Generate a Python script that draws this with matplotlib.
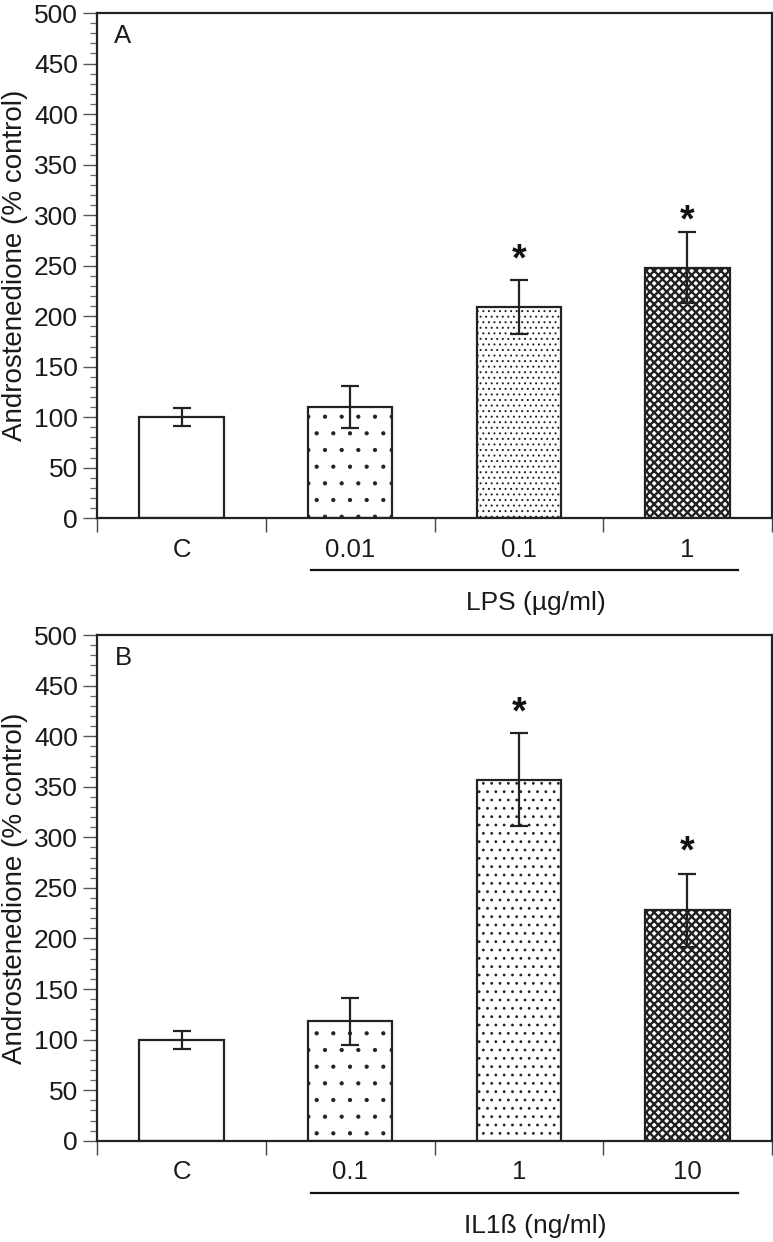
import matplotlib
matplotlib.use("Agg")
import matplotlib.pyplot as plt
from matplotlib.ticker import MultipleLocator, FixedLocator

plt.rcParams['font.family'] = ['Liberation Sans', 'DejaVu Sans']

# data
categories_a = ["C", "0.01", "0.1", "1"]
means_a = [100, 110, 209, 248]
errs_a = [9, 21, 27, 35]
stars_a = [None, None, 264, 302]

categories_b = ["C", "0.1", "1", "10"]
means_b = [100, 118, 357, 228]
errs_b = [9, 23, 46, 36]
stars_b = [None, None, 431, 294]

hatches_a = [None, ".", "...", "xxxx"]
hatches_b = [None, ".", "..", "xxxx"]
hatch_lw_a = [1.0, 0.6, 0.7, 1.7]
hatch_lw_b = [1.0, 0.6, 0.8, 1.7]


def draw_panel(ax, cats, means, errs, stars, hatch_list, hatch_lw, letter, treat_label):
    x = list(range(len(cats)))
    for i in x:
        with plt.rc_context({'hatch.linewidth': hatch_lw[i]}):
            ax.bar(i, means[i], width=0.5, color="white", edgecolor="#222222",
                   linewidth=1.6, hatch=hatch_list[i], zorder=2)
    ax.errorbar(x, means, yerr=errs, fmt="none", ecolor="#222222",
                elinewidth=1.6, capsize=6.5, capthick=1.6, zorder=3)
    for i, s in enumerate(stars):
        if s is not None:
            ax.annotate("*", xy=(i, s), xytext=(0, -13.5), textcoords="offset points",
                        ha="center", va="baseline", fontsize=27, fontweight="bold",
                        color="#111111")

    ax.set_xlim(-0.5, len(cats) - 0.5)
    ax.set_ylim(0, 500)
    ax.yaxis.set_major_locator(MultipleLocator(50))
    ax.yaxis.set_minor_locator(MultipleLocator(10))
    ax.xaxis.set_major_locator(FixedLocator(x))
    ax.set_xticklabels(cats)
    ax.xaxis.set_minor_locator(FixedLocator([i - 0.5 for i in range(len(cats) + 1)]))

    ax.tick_params(axis="y", which="major", direction="out", length=10, width=1,
                   color="#555555", labelsize=19, pad=4, labelcolor="#1a1a1a")
    ax.tick_params(axis="y", which="minor", direction="out", length=5, width=0.9,
                   color="#666666")
    ax.tick_params(axis="x", which="major", length=0, pad=14, labelsize=18.5,
                   labelcolor="#1a1a1a")
    ax.tick_params(axis="x", which="minor", direction="out", length=10, width=1,
                   color="#444444")
    for sp in ax.spines.values():
        sp.set_linewidth(1.6)
        sp.set_color("#222222")

    ax.set_ylabel("Androstenedione (% control)", fontsize=20, color="#1a1a1a")
    ax.yaxis.set_label_coords(-0.103, 0.5)
    ax.text(0.038, 0.955, letter, transform=ax.transAxes, fontsize=18.5,
            ha="center", va="center", color="#1a1a1a")

    trans = ax.get_xaxis_transform()
    ax.plot([0.77, 3.30], [-0.103, -0.103], transform=trans, color="#111111",
            linewidth=1.6, clip_on=False)
    ax.text(2.1, -0.168, treat_label, transform=trans, fontsize=19,
            ha="center", va="center", color="#1a1a1a")


fig = plt.figure(figsize=(7.73, 12.42), dpi=100)
ax_a = fig.add_axes([0.1259, 0.5827, 0.8724, 0.4068])
ax_b = fig.add_axes([0.1259, 0.0815, 0.8724, 0.4072])

draw_panel(ax_a, categories_a, means_a, errs_a, stars_a, hatches_a, hatch_lw_a,
           "A", "LPS (µg/ml)")
draw_panel(ax_b, categories_b, means_b, errs_b, stars_b, hatches_b, hatch_lw_b,
           "B", "IL1ß (ng/ml)")

fig.savefig("out.png", dpi=100)
